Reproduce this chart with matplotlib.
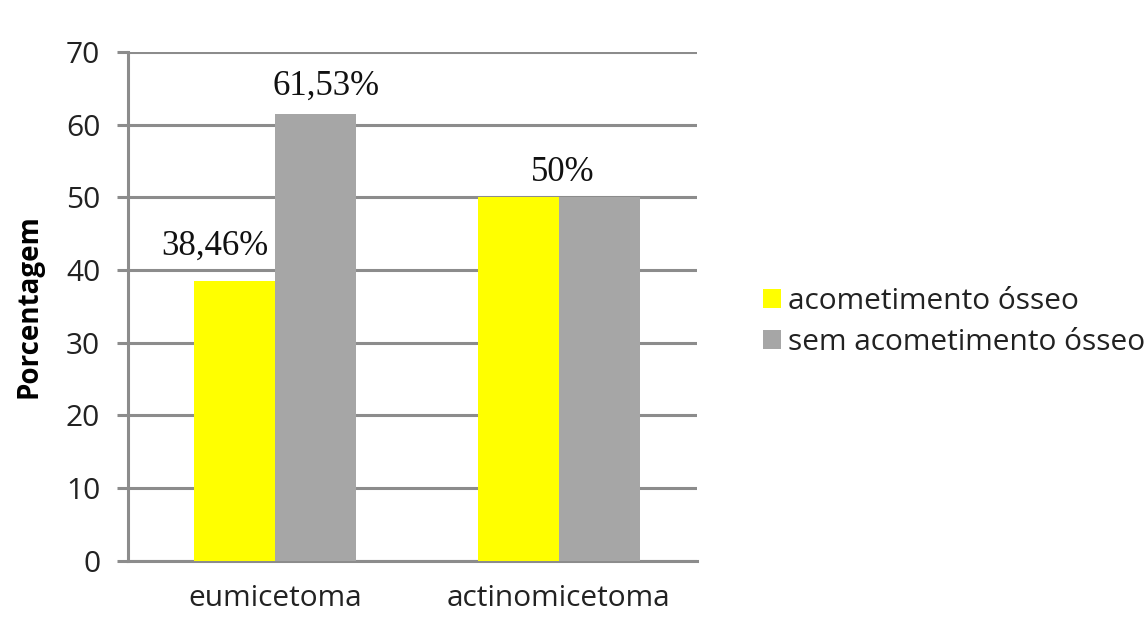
import numpy as np
import matplotlib.pyplot as plt

categorias = ["eumicetoma", "actinomicetoma"]
series = ["acometimento ósseo", "sem acometimento ósseo"]
com_osso = [38.46, 50.0]
sem_osso = [61.53, 50.0]
cores = ["#ffff00", "#a6a6a6"]
yticks = [0, 10, 20, 30, 40, 50, 60, 70]


def pct(v):
    # formato brasileiro: virgula decimal, sem casas quando inteiro
    if float(v).is_integer():
        return f"{int(v)}%"
    return f"{v:.2f}".replace(".", ",") + "%"


fig = plt.figure(figsize=(11.48, 6.19), dpi=100)
ax = fig.add_axes([0.1115, 0.094, 0.496, 0.822])

x = np.arange(len(categorias))
w = 0.286
ax.bar(x - w / 2, com_osso, w, color=cores[0], label=series[0], zorder=3)
ax.bar(x + w / 2, sem_osso, w, color=cores[1], label=series[1], zorder=3)

ax.set_xlim(-0.52, 1.49)
ax.set_ylim(0, 70)
ax.set_yticks(yticks)
ax.set_xticks(x)
ax.set_xticklabels(categorias)
ax.yaxis.grid(True, color="#8c8c8c", linewidth=2.2, zorder=0)
ax.set_axisbelow(True)

for s in ["top", "right"]:
    ax.spines[s].set_visible(False)
for s in ["left", "bottom"]:
    ax.spines[s].set_color("#8c8c8c")
    ax.spines[s].set_linewidth(2.2)

fs = 21.5
ax.tick_params(axis="y", length=8, width=2.2, color="#8c8c8c",
               labelsize=fs, pad=12, labelcolor="#222222")
ax.tick_params(axis="x", length=0, labelsize=fs, pad=17, labelcolor="#222222")
for t in ax.get_yticklabels() + ax.get_xticklabels():
    t.set_fontfamily("Open Sans")

ax.set_ylabel("Porcentagem", fontsize=20, fontweight="bold",
              fontfamily="Open Sans", labelpad=16)

# rotulos de valor (x, altura, texto, deslocamento vertical em pontos)
rotulos = [
    (x[0] - w / 2 - 0.07, com_osso[0], pct(com_osso[0]), 13),
    (x[0] + w / 2 + 0.035, sem_osso[0], pct(sem_osso[0]), 8),
    (x[1] + 0.015, com_osso[1], pct(com_osso[1]), 6),
]
for xp, yp, txt, dy in rotulos:
    ax.annotate(txt, (xp, yp), xytext=(0, dy), textcoords="offset points",
                ha="center", va="bottom", fontsize=25,
                fontfamily="Liberation Serif", color="#111111")

leg = fig.legend(loc="center left", bbox_to_anchor=(0.641, 0.48),
                 frameon=False, handlelength=0.6,
                 handleheight=0.6, handletextpad=0.25, labelspacing=0.4,
                 prop={"family": "Open Sans", "size": fs})
for t in leg.get_texts():
    t.set_color("#222222")

fig.savefig("out.png", dpi=100, facecolor="white")
